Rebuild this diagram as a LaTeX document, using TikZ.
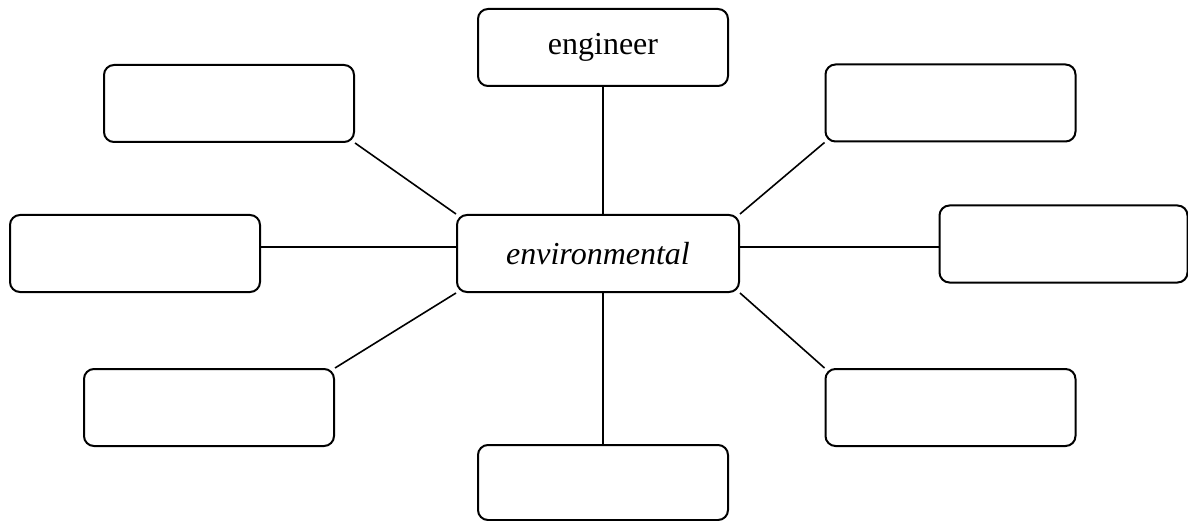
\documentclass[tikz,border=0pt]{standalone}
\usepackage{fontspec}
\setmainfont{Liberation Serif}
\begin{document}
\begin{tikzpicture}[x=0.5pt,y=0.5pt,
  box/.style={draw=black, line width=1pt, rounded corners=5pt, fill=white,
    minimum width=125pt, minimum height=38.5pt, inner sep=0pt,
    font=\fontsize{16}{19}\selectfont},
  link/.style={draw=black, line width=0.8pt}]
\useasboundingbox (0,0) rectangle (1188,520);
% hub word
\node[box, minimum width=141pt] (c) at (598,266.5) {\textit{environmental}};
% satellite boxes
\node[box] (eng) at (603,472.5) {engineer};
\node[box] (tl) at (229,416.5) {};
\node[box] (tr) at (950.5,417) {};
\node[box] (l) at (135,266.5) {};
\node[box, minimum width=124pt] (r) at (1063.5,276) {};
\node[box] (bl) at (209,112.5) {};
\node[box] (br) at (950.5,112.5) {};
\node[box, minimum height=37.5pt] (b) at (603,37.5) {};
% spokes
\draw[link] (eng.south) -- (eng.south |- c.north);
\draw[link] (b.north) -- (b.north |- c.south);
\draw[link] ([yshift=3.25pt]l.east) -- ([yshift=3.25pt]l.east -| c.west);
\draw[link] ([yshift=-1.5pt]r.west) -- ([yshift=-1.5pt]r.west -| c.east);
\draw[link] (tl.south east) -- (c.north west);
\draw[link] (tr.south west) -- (c.north east);
\draw[link] (bl.north east) -- (c.south west);
\draw[link] (br.north west) -- (c.south east);
\end{tikzpicture}
\end{document}
